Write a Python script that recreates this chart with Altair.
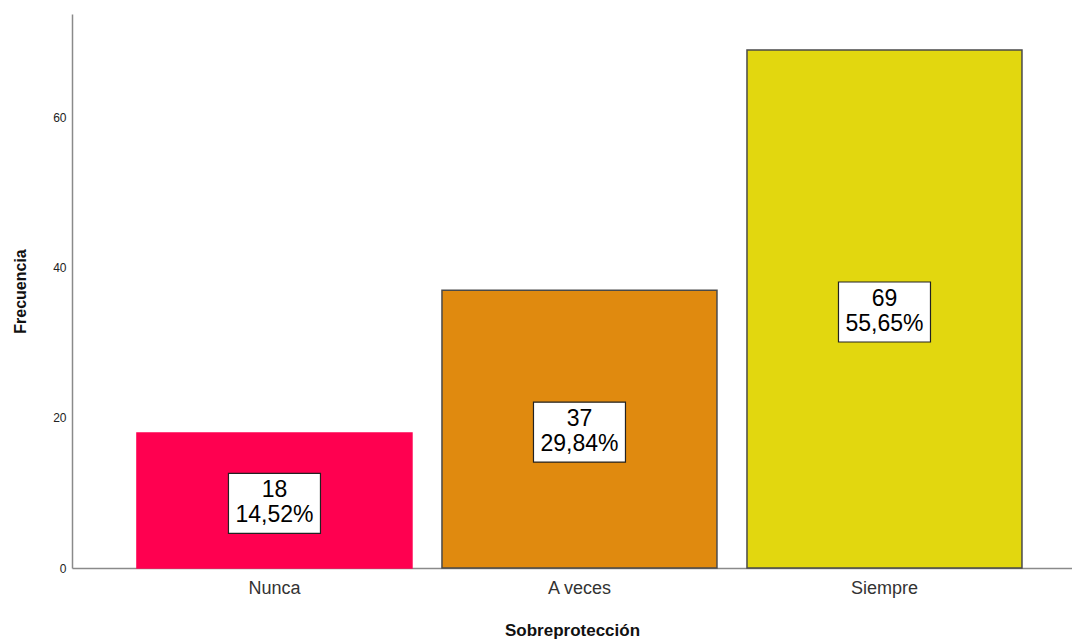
import altair as alt
import pandas as pd

categories = ["Nunca", "A veces", "Siempre"]
counts = [18, 37, 69]
percent_labels = ["14,52%", "29,84%", "55,65%"]
fill_colors = ["#FF0050", "#E08A0F", "#E2D70F"]
stroke_colors = ["#FF0050", "#4A4A4A", "#4A4A4A"]

df = pd.DataFrame({
    "cat": categories,
    "n": counts,
    "pct": percent_labels,
})

x_enc = alt.X(
    "cat:N",
    sort=categories,
    scale=alt.Scale(paddingInner=0.0984, paddingOuter=0.1885, align=0.565),
    axis=alt.Axis(
        title="Sobreprotección", labelAngle=0, ticks=False, labelPadding=11, grid=False,
        labelFontSize=18, labelColor="#333333", labelFont="Liberation Sans",
        titleFontSize=17, titleFont="Liberation Sans", titleFontWeight="bold",
        titleColor="#111111", titlePadding=25, domainColor="#8a8a8a", domainWidth=1.5,
    ),
)

bars = alt.Chart(df).mark_bar(strokeWidth=1.5).encode(
    x=x_enc,
    y=alt.Y(
        "n:Q",
        scale=alt.Scale(domain=[0, 73.8], nice=False),
        axis=alt.Axis(
            title="Frecuencia", values=[0, 20, 40, 60], ticks=False, grid=False,
            labelPadding=6, labelFontSize=12, labelColor="#222222", labelFont="Liberation Sans",
            titleFontSize=16, titleFont="Liberation Sans", titleFontWeight="bold",
            titleColor="#111111", titlePadding=24, domainColor="#8a8a8a", domainWidth=1.5,
        ),
    ),
    fill=alt.Fill("cat:N", scale=alt.Scale(domain=categories, range=fill_colors), legend=None),
    stroke=alt.Stroke("cat:N", scale=alt.Scale(domain=categories, range=stroke_colors), legend=None),
)

box_shape = "M-1,-0.652 L1,-0.652 L1,0.652 L-1,0.652 Z"

base = alt.Chart(df).transform_calculate(mid="datum.n / 2")

boxes = base.mark_point(
    shape=box_shape, size=8464, filled=True, fill="white", stroke="#222222",
    strokeWidth=1.2, opacity=1, yOffset=3,
).encode(
    x=alt.X("cat:N", sort=categories),
    y=alt.Y("mid:Q"),
)

count_text = base.mark_text(
    fontSize=23, font="Liberation Sans", color="black", baseline="middle", yOffset=-10,
).encode(
    x=alt.X("cat:N", sort=categories),
    y=alt.Y("mid:Q"),
    text="n:Q",
)

pct_text = base.mark_text(
    fontSize=23, font="Liberation Sans", color="black", baseline="middle", yOffset=15,
).encode(
    x=alt.X("cat:N", sort=categories),
    y=alt.Y("mid:Q"),
    text="pct:N",
)

chart = alt.layer(bars, boxes, count_text, pct_text).properties(
    width=1000, height=554,
    autosize=alt.AutoSizeParams(type="none"),
    padding={"left": 64, "top": 6, "right": 0, "bottom": 72},
    view=alt.ViewBackground(stroke="transparent", strokeOpacity=0, strokeWidth=0),
).configure_view(stroke="transparent", strokeOpacity=0, strokeWidth=0).configure_axis(grid=False).configure(background="white")

chart.save("out.html", embed_options={"renderer": "svg", "actions": False})
